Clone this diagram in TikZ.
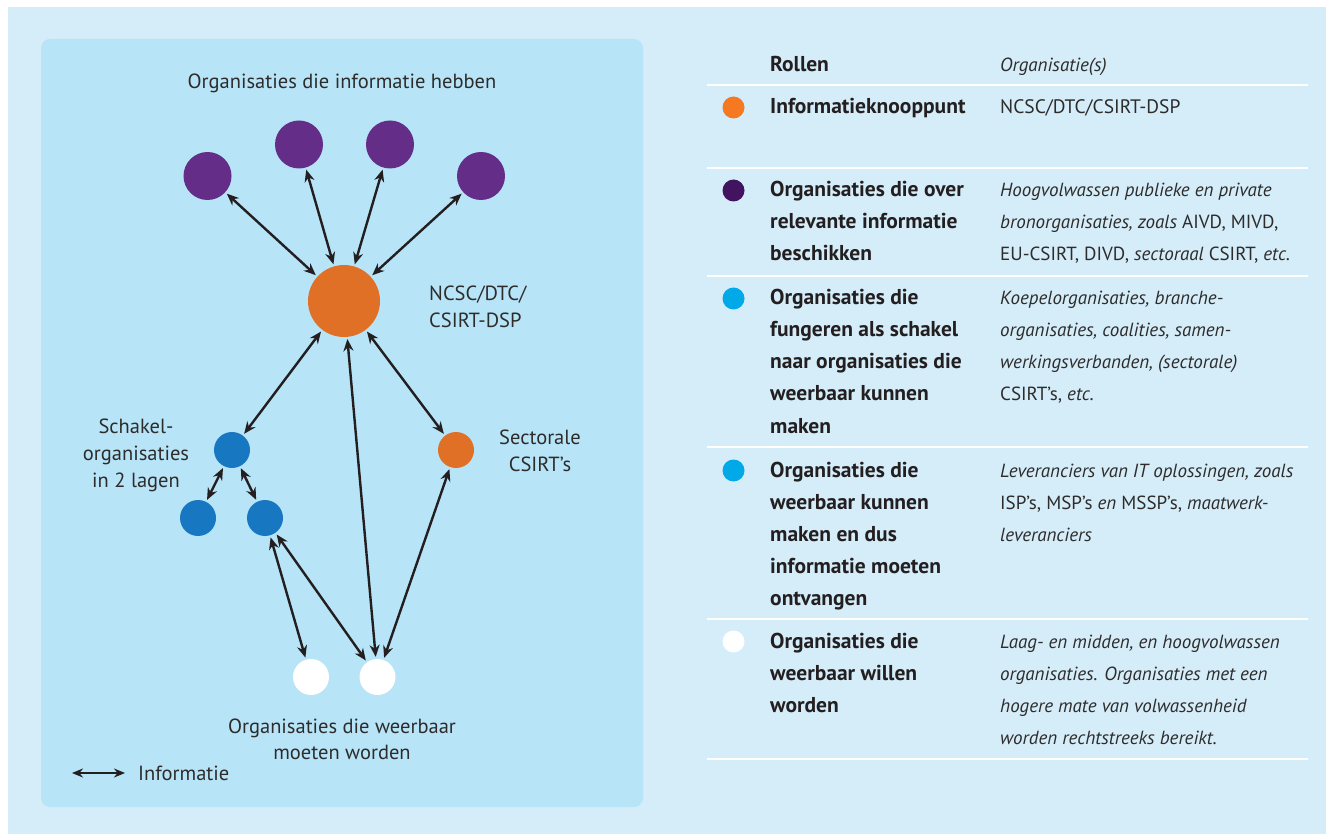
\documentclass[tikz,border=0pt]{standalone}
\usepackage{fontspec}
\setmainfont{PT Sans}
\usetikzlibrary{arrows.meta}
\definecolor{outerbg}{HTML}{D5ECF9}
\definecolor{panelbg}{HTML}{B8E4F8}
\definecolor{purp}{HTML}{632D88}
\definecolor{orng}{HTML}{E07026}
\definecolor{blu}{HTML}{1877C1}
\definecolor{arrowc}{HTML}{231F20}
\definecolor{textc}{HTML}{2D2C2B}
\definecolor{lorange}{HTML}{F47920}
\definecolor{lpurple}{HTML}{42145F}
\definecolor{lcyan}{HTML}{01A9E8}
\tikzset{
  dot/.style={circle, inner sep=0pt, minimum size=#1},
  arr/.style={{Stealth[length=12pt,width=10pt]}-{Stealth[length=12pt,width=10pt]}, line width=2.4pt, draw=arrowc, shorten >=2pt, shorten <=2pt},
  lab/.style={text=textc, font=\fontsize{20.5}{27}\selectfont, inner sep=0pt, anchor=base},
  bcell/.style={text=arrowc, font=\bfseries\fontsize{21.5}{32}\selectfont, inner sep=0pt, anchor=base west},
  icell/.style={text=textc, font=\itshape\fontsize{19}{32}\selectfont, inner sep=0pt, anchor=base west},
  rcell/.style={text=textc, font=\fontsize{19.5}{32}\selectfont, inner sep=0pt, anchor=base west},
  bullet/.style={circle, inner sep=0pt, minimum size=22pt},
  rule/.style={draw=white, line width=1.5pt}
}
\begin{document}
\begin{tikzpicture}[x=1pt,y=-1pt]
\useasboundingbox (0,0) rectangle (1326,834);
\fill[outerbg] (8,7) rectangle (1326,834);
\fill[panelbg, rounded corners=9pt] (41,39) rectangle (643,807);

% diagram nodes
\node[dot=48pt, fill=purp] (p1) at (207.5,176) {};
\node[dot=48pt, fill=purp] (p2) at (299,144.5) {};
\node[dot=48pt, fill=purp] (p3) at (390,144.5) {};
\node[dot=48pt, fill=purp] (p4) at (481,176) {};
\node[dot=72pt, fill=orng] (o) at (344,301) {};
\node[dot=36pt, fill=blu] (b1) at (232,450) {};
\node[dot=36pt, fill=orng] (s) at (456,450) {};
\node[dot=36pt, fill=blu] (b2) at (198,518) {};
\node[dot=36pt, fill=blu] (b3) at (265,518) {};
\node[dot=36pt, fill=white] (w1) at (311,677) {};
\node[dot=36pt, fill=white] (w2) at (377.5,677) {};

% connectors
\draw[arr] (p1) -- (o);
\draw[arr] (p2) -- (o);
\draw[arr] (p3) -- (o);
\draw[arr] (p4) -- (o);
\draw[arr] (o) -- (b1);
\draw[arr] (o) -- (s);
\draw[arr] (o) -- (w2);
\draw[arr] (b1) -- (b2);
\draw[arr] (b1) -- (b3);
\draw[arr] (b3) -- (w1);
\draw[arr] (b3) -- (w2);
\draw[arr] (s) -- (w2);

% diagram labels
\node[lab] (lt) at (342,89) {Organisaties die informatie hebben};
\node[lab, anchor=base west] (ln1) at (429,301) {NCSC/DTC/};
\node[lab, anchor=base west] (ln2) at (429,328) {CSIRT-DSP};
\node[lab] (ls1) at (136,433) {Schakel-};
\node[lab] (ls2) at (136,460) {organisaties};
\node[lab] (ls3) at (136,487) {in 2 lagen};
\node[lab] (lc1) at (540,444) {Sectorale};
\node[lab] (lc2) at (540,471) {CSIRT’s};
\node[lab] (lw1) at (342,733) {Organisaties die weerbaar};
\node[lab] (lw2) at (342,759) {moeten worden};
\coordinate (la) at (72,773);
\coordinate (lb) at (125,773);
\draw[arr, shorten >=0pt, shorten <=0pt, {Stealth[length=11pt,width=9pt]}-{Stealth[length=11pt,width=9pt]}] (la) -- (lb);
\node[lab, anchor=base west] (li) at (138,780) {Informatie};

% table rules
\foreach \yy [count=\k] in {85,168,276,447,619,759}
  \draw[rule] (707,\yy) -- (1308,\yy);

% bullets
\node[bullet, fill=lorange] (d1) at (733.5,107.5) {};
\node[bullet, fill=lpurple] (d2) at (733.5,190.5) {};
\node[bullet, fill=lcyan] (d3) at (733.5,298.5) {};
\node[bullet, fill=lcyan] (d4) at (733.5,470.5) {};
\node[bullet, fill=white] (d5) at (733.5,641.5) {};

% header
\node[bcell] (h1) at (770,72) {Rollen};
\node[icell] (h2) at (1000,72) {Organisatie(s)};
% row 1
\node[bcell] (r1a) at (770,114) {Informatieknooppunt};
\node[rcell] (r1b) at (1000,114) {NCSC/DTC/CSIRT-DSP};
% row 2
\node[bcell] (r2a1) at (770,197) {Organisaties die over};
\node[bcell] (r2a2) at (770,229) {relevante informatie};
\node[bcell] (r2a3) at (770,261) {beschikken};
\node[icell] (r2b1) at (1000,197) {Hoogvolwassen publieke en private};
\node[icell] (r2b2) at (1000,229) {bronorganisaties, zoals \upshape AIVD, MIVD,};
\node[icell] (r2b3) at (1000,261) {\upshape EU-CSIRT, DIVD, \itshape sectoraal \upshape CSIRT, \itshape etc.};
% row 3
\node[bcell] (r3a1) at (770,305) {Organisaties die};
\node[bcell] (r3a2) at (770,337) {fungeren als schakel};
\node[bcell] (r3a3) at (770,369) {naar organisaties die};
\node[bcell] (r3a4) at (770,401) {weerbaar kunnen};
\node[bcell] (r3a5) at (770,433) {maken};
\node[icell] (r3b1) at (1000,305) {Koepelorganisaties, branche-};
\node[icell] (r3b2) at (1000,337) {organisaties, coalities, samen-};
\node[icell] (r3b3) at (1000,369) {werkingsverbanden, (sectorale)};
\node[icell] (r3b4) at (1000,401) {\upshape CSIRT’s, \itshape etc.};
% row 4
\node[bcell] (r4a1) at (770,477) {Organisaties die};
\node[bcell] (r4a2) at (770,509) {weerbaar kunnen};
\node[bcell] (r4a3) at (770,541) {maken en dus};
\node[bcell] (r4a4) at (770,573) {informatie moeten};
\node[bcell] (r4a5) at (770,605) {ontvangen};
\node[icell] (r4b1) at (1000,477) {Leveranciers van IT oplossingen, zoals};
\node[icell] (r4b2) at (1000,509) {\upshape ISP’s, MSP’s \itshape en \upshape MSSP’s, \itshape maatwerk-};
\node[icell] (r4b3) at (1000,541) {leveranciers};
% row 5
\node[bcell] (r5a1) at (770,648) {Organisaties die};
\node[bcell] (r5a2) at (770,680) {weerbaar willen};
\node[bcell] (r5a3) at (770,712) {worden};
\node[icell] (r5b1) at (1000,648) {Laag- en midden, en hoogvolwassen};
\node[icell] (r5b2) at (1000,680) {organisaties. Organisaties met een};
\node[icell] (r5b3) at (1000,712) {hogere mate van volwassenheid};
\node[icell] (r5b4) at (1000,744) {worden rechtstreeks bereikt.};
\end{tikzpicture}
\end{document}
